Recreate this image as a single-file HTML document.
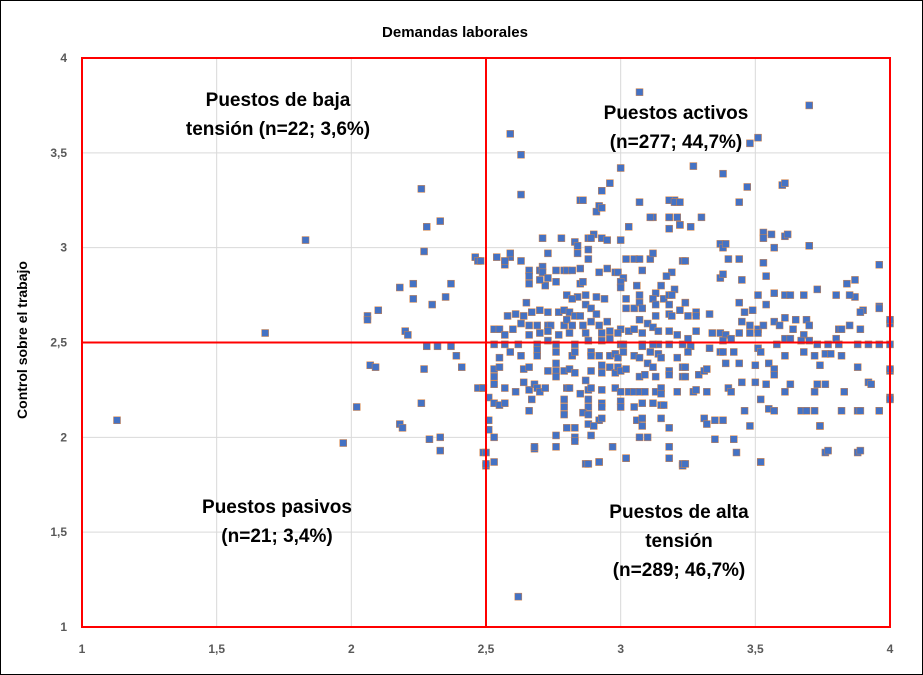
<!DOCTYPE html>
<html><head><meta charset="utf-8"><style>
html,body{margin:0;padding:0;background:#fff;}
#wrap{width:923px;height:675px;position:relative;overflow:hidden;}
svg text{font-family:"Liberation Sans",Arial,sans-serif;}
</style></head><body>
<div id="wrap">
<svg id="chart" width="923" height="675" viewBox="0 0 923 675">
<rect x="0.5" y="0.5" width="922" height="674" fill="#fff" stroke="#000" stroke-width="1"/>
<text x="455" y="37" text-anchor="middle" font-size="15" font-weight="bold">Demandas  laborales</text>
<text transform="translate(27,340) rotate(-90)" text-anchor="middle" font-size="14" font-weight="bold">Control sobre el trabajo</text>
<g id="grid"></g>
<g id="ticks"></g>
<g id="points"></g>
<g id="frame"></g>
<g font-size="19" font-weight="bold" text-anchor="middle">
<text x="278" y="106">Puestos de baja</text>
<text x="278" y="135">tensión (n=22; 3,6%)</text>
<text x="676" y="119">Puestos activos</text>
<text x="676" y="148">(n=277; 44,7%)</text>
<text x="277" y="513">Puestos pasivos</text>
<text x="277" y="542">(n=21; 3,4%)</text>
<text x="679" y="518">Puestos de alta</text>
<text x="679" y="547">tensión</text>
<text x="679" y="576">(n=289; 46,7%)</text>
</g>
</svg>
</div>
<script>
const xTicks=[1,1.5,2,2.5,3,3.5,4];
const yTicks=[1,1.5,2,2.5,3,3.5,4];
const tickLabelsX=["1","1,5","2","2,5","3","3,5","4"];
const tickLabelsY=["1","1,5","2","2,5","3","3,5","4"];
const cutX=2.5, cutY=2.5;
const points=[
[1.13,2.09],[1.68,2.55],[1.83,3.04],[1.97,1.97],[2.02,2.16],[2.06,2.64],[2.06,2.62],[2.07,2.38],[2.09,2.37],[2.10,2.67],[2.18,2.79],[2.20,2.56],[2.21,2.54],[2.18,2.07],[2.19,2.05],[2.23,2.81],[2.23,2.73],[2.26,3.31],[2.28,3.11],[2.33,3.14],[2.30,2.70],[2.26,2.18],[2.27,2.36],[2.28,2.48],[2.29,1.99],[2.33,2.00],[2.33,1.93],[2.32,2.48],[2.35,2.74],[2.37,2.81],[2.39,2.43],[2.41,2.37],[2.37,2.48],[2.46,2.95],[2.47,2.93],[2.48,2.93],[2.47,2.26],[2.49,2.26],[2.49,1.92],[2.5,1.85],[2.27,2.98],
[3.07,3.82],[3.70,3.75],[2.59,3.60],[2.63,3.49],[2.63,3.28],[3.27,3.43],[3.48,3.55],[3.51,3.58],[3.38,3.39],[3.47,3.32],[3.60,3.33],[3.61,3.34],[3.44,3.24],[3.53,3.08],[3.61,3.06],[3.70,3.01],[3.37,3.02],[3.12,3.16],[3.18,3.16],[3.20,3.25],[3.21,3.24],[2.96,3.34],[2.92,3.22],[2.85,3.25],[2.90,3.07],[3.00,3.42],[2.78,3.05],[2.70,2.88],[2.57,2.91],[2.59,2.95],[2.63,2.93],[2.66,2.81],[2.72,2.80],[3.96,2.91],[4.0,2.60],[3.96,2.69],[3.87,2.74],[3.84,2.81],[3.90,2.67],[4.0,2.35],[4.0,2.21],[3.96,2.14],[3.92,2.29],[3.88,2.14],[3.88,1.92],[3.76,1.92],[3.74,2.06],[3.52,1.87],[3.43,1.92],[3.23,1.85],[3.02,1.89],[2.92,1.87],[2.87,1.86],[2.76,1.95],[2.68,1.94],[2.62,1.16],
[2.93,3.30],[2.86,3.25],[2.91,3.19],[2.93,3.21],[3.07,3.24],[3.11,3.16],[3.18,3.25],[3.20,3.24],[3.22,3.24],[3.18,3.16],[3.21,3.16],[3.18,3.10],[3.22,3.12],[3.03,3.11],[2.71,3.05],[2.83,3.03],[2.88,3.05],[2.89,3.05],[2.93,3.05],[2.95,3.04],[3.0,3.04],[2.84,3.01],[2.84,2.97],[2.73,2.97],[2.88,2.99],[2.88,2.94],[2.59,2.97],[2.54,2.95],[2.57,2.93],[3.02,2.94],[3.05,2.94],[3.07,2.94],[3.11,2.94],[3.12,2.97],[3.23,2.93],
[2.66,2.88],[2.71,2.90],[2.71,2.87],[2.76,2.88],[2.79,2.88],[2.80,2.88],[2.82,2.88],[2.85,2.89],[2.92,2.87],[2.95,2.89],[2.98,2.87],[2.99,2.87],[3.08,2.88],[3.19,2.87],[3.17,2.85],
[2.66,2.85],[2.70,2.83],[2.73,2.84],[2.76,2.82],[2.85,2.81],[2.86,2.82],[3.01,2.84],[3.0,2.82],[3.0,2.79],[3.06,2.80],[3.15,2.80],[3.20,2.78],
[2.80,2.75],[2.84,2.74],[2.87,2.75],[2.91,2.74],[2.94,2.73],[2.82,2.73],[3.02,2.73],[3.07,2.75],[3.13,2.76],[3.12,2.73],[3.16,2.73],[3.18,2.75],[3.19,2.75],
[2.65,2.71],[2.87,2.70],[2.89,2.68],[3.02,2.68],[3.05,2.68],[3.07,2.71],[3.08,2.68],[3.13,2.70],[3.18,2.70],[3.24,2.71],
[2.58,2.64],[2.61,2.65],[2.64,2.64],[2.67,2.66],[2.70,2.67],[2.73,2.66],[2.77,2.66],[2.79,2.67],[2.81,2.66],[2.83,2.64],[2.85,2.64],[2.91,2.65],[3.07,2.62],[3.13,2.64],[3.18,2.65],[3.19,2.64],[3.22,2.67],[3.25,2.64],
[2.53,2.57],[2.55,2.57],[2.60,2.57],[2.63,2.60],[2.66,2.59],[2.69,2.59],[2.73,2.59],[2.74,2.59],[2.79,2.59],[2.80,2.62],[2.82,2.59],[2.86,2.59],[2.89,2.61],[2.92,2.59],[2.95,2.61],[3.0,2.57],[3.03,2.56],[3.05,2.57],[3.08,2.55],[3.10,2.60],[3.12,2.58],[3.14,2.56],[3.18,2.56],[3.21,2.54],
[2.57,2.54],[2.66,2.54],[2.70,2.55],[2.73,2.56],[2.77,2.54],[2.81,2.55],[2.87,2.55],[2.93,2.55],[2.96,2.56],[2.99,2.55],
[2.53,2.49],[2.57,2.49],[2.62,2.49],[2.69,2.49],[2.73,2.51],[2.76,2.49],[2.83,2.49],[2.88,2.51],[2.93,2.51],[2.96,2.52],[3.0,2.49],[3.08,2.49],[3.14,2.49],[3.18,2.49],[3.23,2.49],
[3.30,3.16],[3.22,3.12],[3.26,3.11],[3.53,3.05],[3.56,3.07],[3.62,3.07],[3.38,3.0],[3.39,3.02],[3.57,3.0],[3.70,3.01],[3.40,2.94],[3.44,2.94],[3.24,2.93],[3.53,2.92],[3.37,2.84],[3.38,2.86],[3.45,2.83],[3.54,2.85],[3.87,2.83],
[3.51,2.75],[3.57,2.76],[3.61,2.75],[3.63,2.75],[3.68,2.75],[3.73,2.78],[3.80,2.75],[3.85,2.75],
[3.24,2.71],[3.44,2.71],[3.54,2.70],[3.96,2.68],
[3.28,2.66],[3.28,2.64],[3.33,2.65],[3.46,2.66],[3.49,2.67],[3.89,2.66],
[3.45,2.61],[3.48,2.59],[3.51,2.57],[3.53,2.59],[3.57,2.61],[3.59,2.59],[3.61,2.63],[3.65,2.62],[3.69,2.62],[3.70,2.59],[3.81,2.57],[3.82,2.57],[3.85,2.59],[3.89,2.57],[4.0,2.62],
[3.28,2.56],[3.34,2.55],[3.37,2.55],[3.39,2.54],[3.41,2.52],[3.44,2.55],[3.48,2.55],[3.51,2.55],[3.64,2.57],[3.68,2.54],
[3.25,2.52],[3.38,2.51],[3.58,2.49],[3.61,2.52],[3.63,2.52],[3.67,2.51],[3.70,2.51],[3.73,2.49],[3.77,2.49],[3.80,2.52],[3.81,2.49],[3.88,2.49],[3.92,2.49],[3.96,2.49],[4.0,2.49],
[3.01,2.49],[3.12,2.49],[3.26,2.48],
[2.55,2.42],[2.59,2.45],[2.63,2.43],[2.69,2.46],[2.69,2.43],[2.76,2.45],[2.82,2.43],[2.83,2.45],[2.89,2.45],[2.89,2.43],[2.92,2.43],[2.96,2.43],[2.98,2.44],[2.99,2.42],[3.01,2.45],[3.05,2.43],[3.07,2.42],[3.08,2.48],[3.11,2.45],[3.14,2.44],[3.15,2.42],[3.21,2.42],[3.25,2.45],
[2.53,2.36],[2.55,2.37],[2.64,2.36],[2.66,2.37],[2.73,2.35],[2.76,2.39],[2.76,2.35],[2.79,2.35],[2.81,2.36],[2.83,2.34],[2.89,2.35],[2.93,2.38],[2.93,2.34],[2.96,2.37],[2.98,2.34],[2.99,2.37],[3.0,2.35],[3.02,2.36],[3.07,2.32],[3.09,2.33],[3.10,2.39],[3.12,2.37],[3.13,2.32],[3.18,2.35],[3.18,2.33],[3.23,2.37],[3.23,2.32],
[2.49,2.26],[2.53,2.28],[2.53,2.32],[2.57,2.26],[2.61,2.24],[2.64,2.29],[2.66,2.25],[2.68,2.28],[2.69,2.26],[2.70,2.24],[2.72,2.26],[2.76,2.32],[2.80,2.26],[2.81,2.26],[2.85,2.23],[2.87,2.30],[2.88,2.25],[2.89,2.26],[2.93,2.25],[2.98,2.26],[3.0,2.24],[3.03,2.24],[3.05,2.24],[3.07,2.24],[3.09,2.24],[3.13,2.24],[3.15,2.26],[3.15,2.23],[3.21,2.24],
[2.51,2.21],[2.53,2.18],[2.55,2.17],[2.57,2.18],[2.67,2.20],[2.79,2.20],[2.79,2.16],[2.88,2.20],[2.88,2.16],[2.93,2.18],[2.93,2.16],[3.0,2.19],[3.0,2.16],[3.05,2.16],[3.08,2.18],[3.12,2.18],[3.15,2.17],[3.16,2.17],
[2.66,2.14],[2.79,2.12],[2.86,2.13],[2.88,2.12],[2.92,2.09],[2.93,2.10],[3.06,2.09],[3.08,2.10],[3.15,2.10],[2.51,2.09],
[2.80,2.05],[2.83,2.05],[2.88,2.07],[2.90,2.06],[3.08,2.06],[3.18,2.05],[2.51,2.04],
[2.53,2.0],[2.76,2.01],[2.83,2.0],[2.83,1.98],[2.89,2.01],[3.07,2.0],[3.10,2.0],
[2.68,1.95],[2.97,1.95],[3.18,1.95],[2.5,1.92],[3.02,1.89],[3.18,1.89],[2.53,1.87],[2.5,1.86],[2.88,1.86],[2.92,1.87],[3.23,1.86],
[3.33,2.47],[3.37,2.45],[3.38,2.45],[3.42,2.45],[3.51,2.47],[3.52,2.45],[3.61,2.43],[3.68,2.45],[3.72,2.43],[3.76,2.44],[3.78,2.44],[3.82,2.43],[3.88,2.37],
[3.24,2.37],[3.29,2.33],[3.31,2.35],[3.32,2.36],[3.39,2.39],[3.44,2.39],[3.50,2.38],[3.55,2.39],[3.57,2.36],[3.57,2.33],[3.74,2.38],[4.0,2.36],
[3.24,2.32],[3.45,2.29],[3.50,2.29],[3.54,2.28],[3.63,2.28],[3.73,2.28],[3.76,2.28],[3.93,2.28],
[3.27,2.24],[3.28,2.25],[3.32,2.24],[3.40,2.26],[3.41,2.24],[3.61,2.24],[3.72,2.24],[3.83,2.24],
[3.52,2.20],[4.0,2.20],
[3.46,2.14],[3.55,2.15],[3.57,2.14],[3.67,2.14],[3.69,2.14],[3.72,2.14],[3.82,2.14],[3.88,2.14],[3.89,2.14],[3.96,2.14],
[3.31,2.10],[3.32,2.07],[3.35,2.09],[3.38,2.09],[3.48,2.06],[3.74,2.06],
[3.35,1.99],[3.42,1.99],[3.77,1.93],[3.89,1.93],[3.24,1.86],[3.52,1.87]
];
const X0=82,X1=890,Y0=627,Y1=58;
function xs(v){return X0+(v-1)/3*(X1-X0);}
function ys(v){return Y0-(v-1)/3*(Y0-Y1);}
const NS="http://www.w3.org/2000/svg";
function mk(tag,attrs,parent){const e=document.createElementNS(NS,tag);for(const k in attrs)e.setAttribute(k,attrs[k]);parent.appendChild(e);return e;}
const grid=document.getElementById('grid'),ticks=document.getElementById('ticks'),pts=document.getElementById('points'),frame=document.getElementById('frame');
xTicks.forEach((t,i)=>{
  const l=mk('line',{x1:xs(t),x2:xs(t),y1:Y1,y2:Y0,stroke:'#d9d9d9','stroke-width':1},grid);
  
  
  const tx=mk('text',{x:xs(t),y:653,'text-anchor':'middle','font-size':12,'font-weight':'bold',fill:'#595959'},ticks);
  tx.textContent=tickLabelsX[i];
  
  
});
yTicks.forEach((t,i)=>{
  const l=mk('line',{x1:X0,x2:X1,y1:ys(t),y2:ys(t),stroke:'#d9d9d9','stroke-width':1},grid);
  
  
  const tx=mk('text',{x:67,y:ys(t)+4,'text-anchor':'end','font-size':12,'font-weight':'bold',fill:'#595959'},ticks);
  tx.textContent=tickLabelsY[i];
  
  
});
points.forEach(p=>{
  const r=mk('rect',{x:xs(p[0])-3.5,y:ys(p[1])-3.5,width:7,height:7,fill:'#4472C4',stroke:'#D9823F','stroke-width':0.5},pts);
  
  
});
const fr=mk('rect',{x:X0,y:Y1,width:X1-X0,height:Y0-Y1,fill:'none',stroke:'#FF0000','stroke-width':2},frame);


const vx=mk('line',{x1:xs(cutX),x2:xs(cutX),y1:Y1,y2:Y0,stroke:'#FF0000','stroke-width':2},frame);


const hy=mk('line',{x1:X0,x2:X1,y1:ys(cutY),y2:ys(cutY),stroke:'#FF0000','stroke-width':2},frame);


</script>
</body></html>
